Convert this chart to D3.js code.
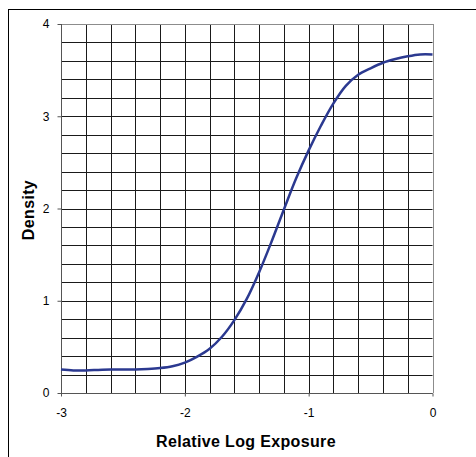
<!DOCTYPE html>
<html><head><meta charset="utf-8">
<script src="https://cdn.jsdelivr.net/npm/d3@7"></script>
<style>html,body{margin:0;padding:0;background:#fff;overflow:hidden}svg{display:block}</style>
</head><body>
<script>
const logExposure = [-3.0,-2.9,-2.8,-2.7,-2.6,-2.5,-2.4,-2.3,-2.2,-2.1,-2.0,-1.9,-1.8,-1.7,-1.6,-1.5,-1.4,-1.3,-1.2,-1.1,-1.0,-0.9,-0.8,-0.7,-0.6,-0.5,-0.4,-0.3,-0.2,-0.1,0.0];
const density = [0.255,0.245,0.245,0.25,0.255,0.255,0.255,0.26,0.27,0.29,0.33,0.395,0.48,0.61,0.79,1.02,1.31,1.64,1.99,2.33,2.63,2.9,3.14,3.33,3.45,3.52,3.58,3.62,3.65,3.67,3.67];
const xTicks = [-3,-2,-1,0];
const yTicks = [0,1,2,3,4];
const xGrid = d3.range(-3, 0.001, 0.2);
const yGrid = d3.range(0, 4.001, 0.2);

const W = 476, H = 457;
const svg = d3.select("body").append("svg").attr("width", W).attr("height", H);
const L = 61, R = 432.5, T = 24, B = 393;
const x = d3.scaleLinear().domain([-3, 0]).range([L, R]);
const y = d3.scaleLinear().domain([0, 4]).range([B, T]);

// outer frame
svg.append("rect").attr("x", 8.5).attr("y", 9.5).attr("width", 600).attr("height", 600)
  .attr("fill", "none").attr("stroke", "#000").attr("stroke-width", 1);

// grid
svg.append("g").selectAll("line").data(xGrid).join("line")
  .attr("x1", d => Math.round(x(d)) + 0.5).attr("x2", d => Math.round(x(d)) + 0.5)
  .attr("y1", T).attr("y2", B).attr("stroke", "#1a1a1a").attr("stroke-width", 1);
svg.append("g").selectAll("line").data(yGrid).join("line")
  .attr("y1", d => Math.round(y(d)) + 0.5).attr("y2", d => Math.round(y(d)) + 0.5)
  .attr("x1", L).attr("x2", R).attr("stroke", "#1a1a1a").attr("stroke-width", 1);

// plot border (top/right gray)
svg.append("line").attr("x1", L).attr("x2", R).attr("y1", Math.round(T) + 0.5).attr("y2", Math.round(T) + 0.5).attr("stroke", "#8c8c8c");
svg.append("line").attr("x1", Math.round(R) + 0.5).attr("x2", Math.round(R) + 0.5).attr("y1", T).attr("y2", B).attr("stroke", "#8c8c8c");

// axes
const fmt = d => String(d);
const xAxis = d3.axisBottom(x).tickValues(xTicks).tickSize(3).tickPadding(12).tickFormat(fmt);
const yAxis = d3.axisLeft(y).tickValues(yTicks).tickSize(4).tickPadding(8).tickFormat(fmt);
const gx = svg.append("g").attr("transform", `translate(0,${Math.round(B) + 0.5})`).call(xAxis);
const gy = svg.append("g").attr("transform", `translate(${Math.round(L) + 0.5},0)`).call(yAxis);
[gx, gy].forEach(g => {
  g.select(".domain").attr("stroke", "#555");
  g.selectAll(".tick line").attr("stroke", "#555");
  g.selectAll("text").attr("font-family", "Liberation Sans, Arial, sans-serif").attr("font-size", 12).attr("fill", "#000");
});
gx.select(".domain").attr("d", `M${L},0H${R}`);
gy.select(".domain").attr("d", `M0,${T}V${B}`);

// curve
const line = d3.line().x((d, i) => x(logExposure[i])).y(d => y(d)).curve(d3.curveCatmullRom.alpha(0.5));
svg.append("path").datum(density).attr("d", line).attr("fill", "none")
  .attr("stroke", "#2b3990").attr("stroke-width", 2.5).attr("stroke-linejoin", "round");

// titles
svg.append("text").attr("x", 246).attr("y", 447).attr("text-anchor", "middle")
  .attr("font-family", "Liberation Sans, Arial, sans-serif").attr("font-weight", "bold").attr("font-size", 16)
  .attr("letter-spacing", 0.35)
  .text("Relative Log Exposure");
svg.append("text").attr("transform", `translate(34,210) rotate(-90)`).attr("text-anchor", "middle")
  .attr("font-family", "Liberation Sans, Arial, sans-serif").attr("font-weight", "bold").attr("font-size", 16)
  .attr("letter-spacing", 0.35)
  .text("Density");
</script>
</body></html>
